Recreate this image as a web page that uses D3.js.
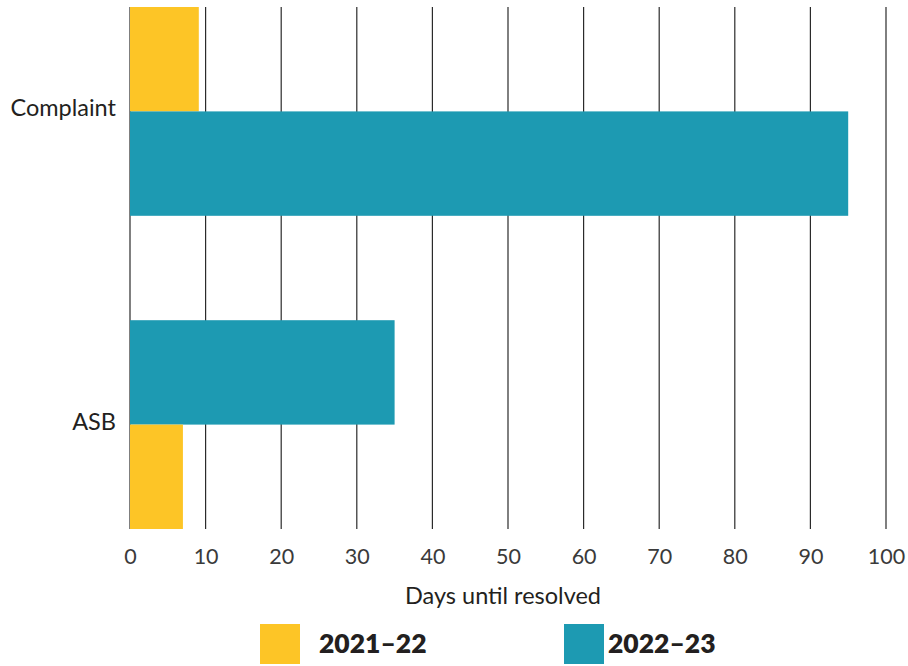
<!DOCTYPE html>
<html>
<head>
<meta charset="utf-8">
<script src="https://cdn.jsdelivr.net/npm/d3@7"></script>
<style>
  html, body { margin: 0; padding: 0; background: #fff; }
  svg { display: block; font-family: Lato, "Noto Sans", sans-serif; }
</style>
</head>
<body>
<svg id="chart" width="908" height="666"></svg>
<script>
// Average days until a case is resolved, by case type and year
const categories = ["Complaint", "ASB"];
const seriesNames = ["2021–22", "2022–23"];
const values2021 = [9.1, 7];   // 2021–22, per category
const values2022 = [95, 35];   // 2022–23, per category
// stacking order of the two bars inside each category band (top to bottom)
const barOrder = [["2021–22", "2022–23"], ["2022–23", "2021–22"]];
const xTicks = [0, 10, 20, 30, 40, 50, 60, 70, 80, 90, 100];
const colors = ["#fdc526", "#1d9ab2"];

const svg = d3.select("#chart");
const margin = { left: 130, right: 22, top: 7, bottom: 137 };
const W = 908, H = 666;

const x = d3.scaleLinear().domain([0, 100]).range([margin.left, W - margin.right]);
const y = d3.scaleBand().domain(categories).range([margin.top, H - margin.bottom])
  .paddingInner(1 / 3).paddingOuter(0);
const color = d3.scaleOrdinal().domain(seriesNames).range(colors);

const rows = categories.map((c, i) => ({
  category: c,
  values: { "2021–22": values2021[i], "2022–23": values2022[i] },
  order: barOrder[i]
}));

// vertical gridlines
svg.append("g")
  .selectAll("line")
  .data(xTicks)
  .join("line")
  .attr("x1", d => x(d)).attr("x2", d => x(d))
  .attr("y1", margin.top).attr("y2", H - margin.bottom)
  .attr("stroke", "#2b2b2b")
  .attr("stroke-width", 1.2);

// bars
const groups = svg.append("g")
  .selectAll("g")
  .data(rows)
  .join("g")
  .attr("transform", d => `translate(0,${y(d.category)})`);

groups.each(function (row) {
  const inner = d3.scaleBand().domain(row.order).range([0, y.bandwidth()]);
  d3.select(this).selectAll("rect")
    .data(row.order.map(s => ({ series: s, value: row.values[s] })))
    .join("rect")
    .attr("x", x(0))
    .attr("y", d => inner(d.series))
    .attr("width", d => x(d.value) - x(0))
    .attr("height", inner.bandwidth())
    .attr("fill", d => color(d.series));
});

// category labels
svg.append("g")
  .selectAll("text")
  .data(categories)
  .join("text")
  .attr("x", margin.left - 14)
  .attr("y", d => y(d) + y.bandwidth() / 2 - 4)
  .attr("text-anchor", "end")
  .attr("dominant-baseline", "central")
  .attr("font-size", 23.5)
  .attr("fill", "#231f20")
  .text(d => d);

// x axis tick labels
const xAxis = d3.axisBottom(x).tickValues(xTicks).tickSize(0).tickPadding(0);
const axisG = svg.append("g")
  .attr("transform", `translate(0,${H - margin.bottom})`)
  .call(xAxis);
axisG.select(".domain").remove();
axisG.selectAll("text")
  .attr("y", 0)
  .attr("dy", null)
  .attr("transform", "translate(0,27)")
  .attr("dominant-baseline", "central")
  .attr("font-family", "Lato, 'Noto Sans', sans-serif")
  .attr("font-size", 21.5)
  .attr("fill", "#3a3a3a");

// axis title
svg.append("text")
  .attr("x", 503)
  .attr("y", 595)
  .attr("text-anchor", "middle")
  .attr("dominant-baseline", "central")
  .attr("font-size", 23.5)
  .attr("fill", "#231f20")
  .text("Days until resolved");

// legend
const legendX = [260, 564];
const legend = svg.append("g")
  .selectAll("g")
  .data(seriesNames)
  .join("g")
  .attr("transform", (d, i) => `translate(${legendX[i]},624)`);
legend.append("rect")
  .attr("width", 40).attr("height", 40)
  .attr("fill", d => color(d));
legend.append("text")
  .attr("x", (d, i) => i === 0 ? 59 : 44)
  .attr("y", 19)
  .attr("dominant-baseline", "central")
  .attr("font-size", 26.5)
  .attr("font-weight", 800)
  .attr("fill", "#231f20")
  .text(d => d);
</script>
</body>
</html>
